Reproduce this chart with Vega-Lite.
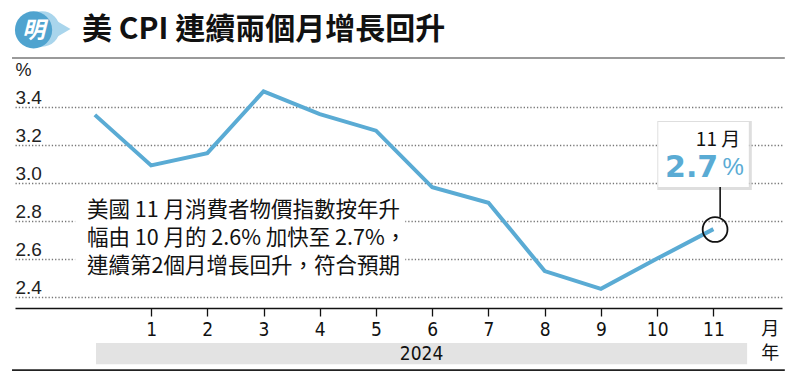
{
  "$schema": "https://vega.github.io/schema/vega-lite/v6.json",
  "width": 767,
  "height": 249,
  "autosize": {"type": "none"},
  "padding": {"left": 15, "top": 59, "right": 18, "bottom": 74},
  "background": "white",
  "config": {"view": {"stroke": null}, "font": "Liberation Sans"},
  "data": {"values": [
    {"month": 0, "cpi": 3.356},
    {"month": 1, "cpi": 3.09},
    {"month": 2, "cpi": 3.155},
    {"month": 3, "cpi": 3.48},
    {"month": 4, "cpi": 3.36},
    {"month": 5, "cpi": 3.273},
    {"month": 6, "cpi": 2.975},
    {"month": 7, "cpi": 2.894},
    {"month": 8, "cpi": 2.534},
    {"month": 9, "cpi": 2.441},
    {"month": 10, "cpi": 2.6},
    {"month": 11, "cpi": 2.755}
  ]},
  "layer": [
    {
      "data": {"values": [{}]},
      "mark": {"type": "rule", "color": "#9a9a9a", "strokeWidth": 2},
      "encoding": {
        "x": {"datum": -1.473, "type": "quantitative"},
        "x2": {"datum": 12.27},
        "y": {"datum": 3.655, "type": "quantitative"}
      }
    },
    {
      "data": {"values": [{}]},
      "mark": {"type": "point", "shape": "circle", "filled": true, "color": "#a9d5ec", "opacity": 1, "size": 1257},
      "encoding": {
        "x": {"datum": -0.939, "type": "quantitative"},
        "y": {"datum": 3.808, "type": "quantitative"}
      }
    },
    {
      "data": {"values": [{}]},
      "mark": {"type": "point", "shape": "triangle-right", "filled": true, "color": "#a9d5ec", "opacity": 1, "size": 300},
      "encoding": {
        "x": {"datum": -0.566, "type": "quantitative"},
        "y": {"datum": 3.808, "type": "quantitative"}
      }
    },
    {
      "data": {"values": [{}]},
      "mark": {"type": "point", "shape": "circle", "filled": true, "color": "#4fa3cf", "opacity": 1, "size": 1385},
      "encoding": {
        "x": {"datum": -1.09, "type": "quantitative"},
        "y": {"datum": 3.803, "type": "quantitative"}
      }
    },
    {
      "data": {"values": [{"t": "明"}]},
      "mark": {"type": "text", "font": "Noto Sans CJK TC", "fontWeight": "bold", "fontStyle": "italic", "fontSize": 23, "color": "white", "align": "center", "baseline": "middle"},
      "encoding": {
        "x": {"datum": -1.09, "type": "quantitative"},
        "y": {"datum": 3.797, "type": "quantitative"},
        "text": {"field": "t"}
      }
    },
    {
      "data": {"values": [{"t": "美 CPI 連續兩個月增長回升"}]},
      "mark": {"type": "text", "font": "Noto Sans CJK TC", "fontWeight": "bold", "fontSize": 30, "color": "#111", "align": "left", "baseline": "middle"},
      "encoding": {
        "x": {"datum": -0.228, "type": "quantitative"},
        "y": {"datum": 3.803, "type": "quantitative"},
        "text": {"field": "t"}
      }
    },
    {
      "data": {"values": [{}]},
      "mark": {"type": "rect", "color": "#e3e3e3"},
      "encoding": {
        "x": {"datum": 0.021, "type": "quantitative"},
        "x2": {"datum": 11.6},
        "y": {"datum": 2.1553, "type": "quantitative"},
        "y2": {"datum": 2.0447}
      }
    },
    {
      "data": {"values": [{"t": "2024"}]},
      "mark": {"type": "text", "font": "DejaVu Sans Condensed, sans-serif", "fontSize": 19, "color": "#111", "align": "center", "baseline": "middle"},
      "encoding": {
        "x": {"datum": 5.81, "type": "quantitative"},
        "y": {"datum": 2.1, "type": "quantitative"},
        "text": {"field": "t"}
      }
    },
    {
      "data": {"values": [{"t": "月"}]},
      "mark": {"type": "text", "font": "Noto Sans CJK TC", "fontSize": 18, "color": "#111", "align": "center", "baseline": "middle"},
      "encoding": {
        "x": {"datum": 12.01, "type": "quantitative"},
        "y": {"datum": 2.2237, "type": "quantitative"},
        "text": {"field": "t"}
      }
    },
    {
      "data": {"values": [{"t": "年"}]},
      "mark": {"type": "text", "font": "Noto Sans CJK TC", "fontSize": 18, "color": "#111", "align": "center", "baseline": "middle"},
      "encoding": {
        "x": {"datum": 12.01, "type": "quantitative"},
        "y": {"datum": 2.1, "type": "quantitative"},
        "text": {"field": "t"}
      }
    },
    {
      "data": {"values": [{}]},
      "mark": {"type": "rule", "color": "#222", "strokeWidth": 1.6},
      "encoding": {
        "x": {"datum": -1.473, "type": "quantitative"},
        "x2": {"datum": 12.27},
        "y": {"datum": 2.0132, "type": "quantitative"}
      }
    },
    {
      "mark": {"type": "line", "color": "#5aabd4", "strokeWidth": 4, "strokeCap": "butt", "strokeJoin": "miter"},
      "encoding": {
        "x": {
          "field": "month", "type": "quantitative",
          "scale": {"domain": [-1.42, 12.22], "nice": false, "zero": false},
          "axis": {
            "values": [1, 2, 3, 4, 5, 6, 7, 8, 9, 10, 11], "format": "d",
            "title": null, "grid": false,
            "domainColor": "#111", "domainWidth": 1.6,
            "tickColor": "#111", "tickSize": 8, "tickWidth": 1.3,
            "labelFont": "DejaVu Sans Condensed, sans-serif", "labelFontSize": 19, "labelColor": "#111",
            "labelPadding": 4, "labelFlush": false
          }
        },
        "y": {
          "field": "cpi", "type": "quantitative",
          "scale": {"domain": [2.34, 3.65], "nice": false, "zero": false},
          "axis": {
            "values": [2.4, 2.6, 2.8, 3.0, 3.2, 3.4], "format": ".1f",
            "title": "%", "titleAngle": 0, "titleX": 0, "titleY": 11, "titleAlign": "left", "titleBaseline": "middle",
            "titleFont": "Liberation Sans", "titleFontSize": 18, "titleFontWeight": "normal", "titleColor": "#222",
            "domain": false, "ticks": false, "tickSize": 0,
            "labelAlign": "left", "labelPadding": 0, "labelBaseline": "alphabetic", "labelOffset": -3,
            "labelFont": "Liberation Sans", "labelFontSize": 19, "labelColor": "#222",
            "grid": true, "gridColor": "#777", "gridDash": [1.3, 2], "gridWidth": 1.3
          }
        }
      }
    },
    {
      "data": {"values": [{}]},
      "mark": {"type": "rect", "color": "white"},
      "encoding": {
        "x": {"datum": -0.35, "type": "quantitative"},
        "x2": {"datum": 5.52},
        "y": {"datum": 2.924, "type": "quantitative"},
        "y2": {"datum": 2.471}
      }
    },
    {
      "data": {"values": [{}]},
      "mark": {"type": "text", "font": "Noto Sans CJK TC", "fontSize": 21.5, "color": "#111", "align": "left", "baseline": "middle", "lineHeight": 28},
      "encoding": {
        "x": {"datum": -0.14, "type": "quantitative"},
        "y": {"datum": 2.85, "type": "quantitative"},
        "text": {"value": ["美國 11 月消費者物價指數按年升", "幅由 10 月的 2.6% 加快至 2.7%，", "連續第2個月增長回升，符合預期"]}
      }
    },
    {
      "data": {"values": [{}]},
      "mark": {"type": "rect", "color": "#c8c8c8", "opacity": 0.6, "xOffset": -1, "yOffset": -1, "x2Offset": 3, "y2Offset": 3},
      "encoding": {
        "x": {"datum": 10.02, "type": "quantitative"},
        "x2": {"datum": 11.63},
        "y": {"datum": 3.318, "type": "quantitative"},
        "y2": {"datum": 2.976}
      }
    },
    {
      "data": {"values": [{}]},
      "mark": {"type": "rect", "color": "white"},
      "encoding": {
        "x": {"datum": 10.02, "type": "quantitative"},
        "x2": {"datum": 11.63},
        "y": {"datum": 3.318, "type": "quantitative"},
        "y2": {"datum": 2.976}
      }
    },
    {
      "data": {"values": [{"t": "11 月"}]},
      "mark": {"type": "text", "font": "Noto Sans CJK TC", "fontSize": 19, "color": "#111", "align": "right", "baseline": "middle"},
      "encoding": {
        "x": {"datum": 11.477, "type": "quantitative"},
        "y": {"datum": 3.224, "type": "quantitative"},
        "text": {"field": "t"}
      }
    },
    {
      "data": {"values": [{"t": "2.7"}]},
      "mark": {"type": "text", "font": "DejaVu Sans", "fontWeight": "bold", "fontSize": 30, "color": "#5aabd4", "align": "left", "baseline": "middle", "letterSpacing": -1.5},
      "encoding": {
        "x": {"datum": 10.14, "type": "quantitative"},
        "y": {"datum": 3.076, "type": "quantitative"},
        "text": {"field": "t"}
      }
    },
    {
      "data": {"values": [{"t": "%"}]},
      "mark": {"type": "text", "font": "Liberation Sans", "fontSize": 24, "color": "#5aabd4", "align": "left", "baseline": "middle"},
      "encoding": {
        "x": {"datum": 11.16, "type": "quantitative"},
        "y": {"datum": 3.076, "type": "quantitative"},
        "text": {"field": "t"}
      }
    },
    {
      "data": {"values": [{}]},
      "mark": {"type": "rule", "color": "#111", "strokeWidth": 1.6},
      "encoding": {
        "x": {"datum": 11.12, "type": "quantitative"},
        "y": {"datum": 2.976, "type": "quantitative"},
        "y2": {"datum": 2.818}
      }
    },
    {
      "data": {"values": [{}]},
      "mark": {"type": "point", "shape": "circle", "filled": false, "color": "#111", "opacity": 1, "strokeWidth": 1.8, "size": 616},
      "encoding": {
        "x": {"datum": 11.03, "type": "quantitative"},
        "y": {"datum": 2.753, "type": "quantitative"}
      }
    }
  ]
}
